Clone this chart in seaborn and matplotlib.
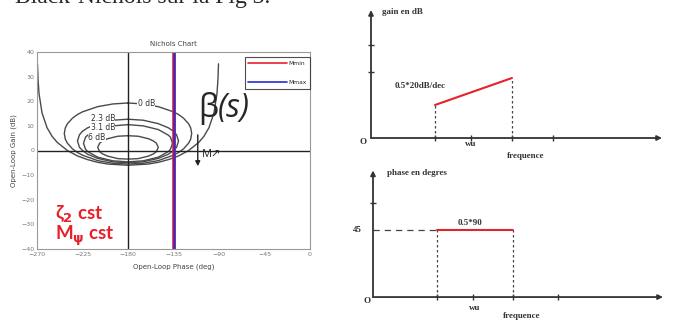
import matplotlib
matplotlib.use("Agg")
import matplotlib.pyplot as plt
import seaborn as sns
from matplotlib.lines import Line2D

sns.set_style("white")
plt.rcParams["font.family"] = ["DejaVu Sans"]
plt.rcParams["mathtext.default"] = "bf"

# ---- Nichols chart data (phase in deg, gain in dB) ----
phase_ticks = [-270, -225, -180, -135, -90, -45, 0]
gain_ticks = [-40, -30, -20, -10, 0, 10, 20, 30, 40]

# closed-loop 0 dB contour (open curve)
m0_phase = [-269.5, -269, -268, -265, -260, -255, -250, -240, -230, -220, -210, -200, -180,
            -160, -150, -140, -130, -120, -110, -105, -100, -95, -92, -91, -90.5]
m0_gain = [35.2, 29.1, 23.1, 15.2, 9.2, 5.7, 3.3, 0.0, -2.2, -3.7, -4.8, -5.5, -6.0,
           -5.5, -4.8, -3.7, -2.2, 0.0, 3.3, 5.7, 9.2, 15.2, 23.1, 29.1, 35.2]

# label "0 dB" contour
m1_phase = [-180, -195, -210, -225, -230, -235, -240, -242, -243, -242, -240, -235, -230, -225, -210, -195, -180,
            -165, -150, -135, -130, -125, -120, -118, -117, -118, -120, -125, -130, -135, -150, -165, -180]
m1_gain = [19.3, 18.9, 17.8, 15.7, 14.6, 13.1, 10.8, 9.2, 6.9, 4.6, 3.0, 0.7, -0.8, -1.9, -4.1, -5.2, -5.5,
           -5.2, -4.1, -1.9, -0.8, 0.7, 3.0, 4.6, 6.9, 9.2, 10.8, 13.1, 14.6, 15.7, 17.8, 18.9, 19.3]

# 2.3 dB contour
m23_phase = [-180, -195, -210, -220, -225, -228, -230, -228, -225, -220, -210, -195, -180,
             -165, -150, -140, -135, -132, -130, -132, -135, -140, -150, -165, -180]
m23_gain = [12.7, 12.3, 10.9, 9.2, 7.8, 6.4, 3.9, 1.3, 0.0, -1.5, -3.2, -4.6, -5.0,
            -4.6, -3.2, -1.5, 0.0, 1.3, 3.9, 6.4, 7.8, 9.2, 10.9, 12.3, 12.7]

# 3.1 dB contour
m31_phase = [-180, -195, -210, -220, -222, -224, -222, -220, -210, -195, -180,
             -165, -150, -140, -138, -136, -138, -140, -150, -165, -180]
m31_gain = [10.5, 10.0, 8.5, 6.2, 5.4, 2.9, 0.5, -0.4, -2.7, -4.2, -4.6,
            -4.2, -2.7, -0.4, 0.5, 2.9, 5.4, 6.2, 8.5, 10.0, 10.5]

# 6 dB contour
m6_phase = [-180, -190, -200, -205, -208, -210, -208, -205, -200, -190, -180,
            -170, -160, -155, -152, -150, -152, -155, -160, -170, -180]
m6_gain = [6.0, 5.8, 4.8, 3.9, 3.0, 1.3, -0.5, -1.4, -2.3, -3.3, -3.5,
           -3.3, -2.3, -1.4, -0.5, 1.3, 3.0, 3.9, 4.8, 5.8, 6.0]

contour_labels = ["0 dB", "2.3 dB", "3.1 dB", "6 dB"]
label_phase = [-162, -205, -205, -211]
label_gain = [19.0, 13.0, 9.2, 5.4]

mmin_phase = -135
mmax_phase = -135
arrow_phase = -111
arrow_gain = [7.5, -7.5]

# ---- Bode sketches ----
gain_freq = [6.4, 14.1]
gain_db = [3.3, 6.0]
gain_xticks = [6.4, 10.0, 14.1, 18.2]
gain_yticks = [6.6, 9.3]

phase_freq = [6.4, 14.0]
phase_deg = [45, 45]
phase_xticks = [6.4, 10.0, 14.0, 18.5]
phase_yticks = [63]

RED = "#e8202a"
BLUE = "#2a2ad8"
GREY = "#4a4a4a"

fig = plt.figure(figsize=(6.81, 3.2), dpi=100)
fig.text(15 / 681, 0.99, "Black-Nichols sur la Fig 3.", family="Liberation Serif",
         fontsize=17, va="baseline", ha="left")

# ---------------- Nichols chart ----------------
ax = fig.add_axes([37 / 681, 71 / 320, 273 / 681, 197 / 320])
for ph, g in [(m0_phase, m0_gain), (m1_phase, m1_gain), (m23_phase, m23_gain),
              (m31_phase, m31_gain), (m6_phase, m6_gain)]:
    sns.lineplot(x=ph, y=g, sort=False, ax=ax, color=GREY, lw=1.0, estimator=None)

for txt, px, gy in zip(contour_labels, label_phase, label_gain):
    ax.text(px, gy, txt, fontsize=5.5, color="#333333", ha="center", va="center",
            bbox=dict(facecolor="white", edgecolor="none", pad=0.2))

ax.axvline(-180, color="#222222", lw=1.0)
ax.axhline(0, color="#222222", lw=1.0)
ax.axvline(mmin_phase, color=RED, lw=2.6)
ax.axvline(mmax_phase, color=BLUE, lw=1.8, alpha=0.85)

ax.set_xlim(-270, 0)
ax.set_ylim(-40, 40)
ax.set_xticks(phase_ticks)
ax.set_yticks(gain_ticks)
ax.tick_params(direction="in", length=2, labelsize=4.5, labelcolor="#777777", color="#999999", pad=2)
for s in ax.spines.values():
    s.set_color("#999999")
    s.set_linewidth(0.8)
ax.set_title("Nichols Chart", fontsize=5, color="#444444", pad=4)
ax.set_xlabel("Open-Loop Phase (deg)", fontsize=5, color="#444444", labelpad=5)
ax.set_ylabel("Open-Loop Gain (dB)", fontsize=5, color="#444444", labelpad=3)

handles = [Line2D([], [], color=RED, lw=1.2), Line2D([], [], color=BLUE, lw=1.2)]
leg = ax.legend(handles, ["Mmin", "Mmax"], loc="upper right", bbox_to_anchor=(1.0, 0.975),
                fontsize=4.3, handlelength=6.5, labelspacing=2.4, handletextpad=0.2,
                frameon=True, fancybox=False, borderpad=0.6, borderaxespad=0)
leg.get_frame().set_edgecolor("#222222")
leg.get_frame().set_linewidth(0.8)

ax.text(-111, 17, "β", fontsize=23, family=["Open Sans", "DejaVu Sans"], ha="left", va="center")
ax.text(-91, 17, "(s)", fontsize=23, family=["Open Sans", "DejaVu Sans"], style="italic",
        ha="left", va="center")
ax.annotate("", xy=(arrow_phase, arrow_gain[1]), xytext=(arrow_phase, arrow_gain[0]),
            arrowprops=dict(arrowstyle="-|>", color="#222222", lw=1.0, mutation_scale=7))
ax.text(-107, -1.5, "M↗", fontsize=8, family=["Open Sans", "DejaVu Sans"], ha="left", va="center")

ax.text(-252, -26, "ζ$_2$ cst", fontsize=13.5, family=["Lato", "DejaVu Sans"], weight="bold",
        color=RED, ha="left", va="center")
ax.text(-252, -34.5, "M$_\\psi$ cst", fontsize=13.5, family=["Lato", "DejaVu Sans"], weight="bold",
        color=RED, ha="left", va="center")

sketch_font = dict(family="Liberation Serif", weight="bold", fontsize=6.5, color="#333333")
arrow_kw = dict(arrowstyle="-|>", color="#333333", lw=1.3, mutation_scale=7, shrinkA=0, shrinkB=0)

# ---------------- gain sketch ----------------
axg = fig.add_axes([340 / 681, 0.5, 341 / 681, 0.5])
axg.set_xlim(-3.1, 31.0)
axg.set_ylim(-2.2, 13.8)
axg.axis("off")
axg.annotate("", xy=(29.1, 0), xytext=(0, 0), arrowprops=arrow_kw)
axg.annotate("", xy=(0, 12.8), xytext=(0, 0), arrowprops=arrow_kw)
axg.plot(gain_xticks, [0] * len(gain_xticks), ls="none", marker="|", ms=5, color="#333333", mew=1)
axg.plot([0] * len(gain_yticks), gain_yticks, ls="none", marker="_", ms=5, color="#333333", mew=1)
for fx, gy in zip(gain_freq, gain_db):
    axg.plot([fx, fx], [0, gy], color="#444444", lw=0.9, ls=(0, (2, 2)))
sns.lineplot(x=gain_freq, y=gain_db, ax=axg, color=RED, lw=1.5, estimator=None)
axg.text(1.1, 12.6, "gain en dB", ha="left", va="center", **sketch_font)
axg.text(2.4, 5.2, "0.5*20dB/dec", ha="left", va="center", **sketch_font)
axg.text(10.0, -0.6, "wu", ha="center", va="center", **sketch_font)
axg.text(15.5, -1.8, "frequence", ha="center", va="center", **sketch_font)
axg.text(-0.8, -0.4, "O", ha="center", va="center", **sketch_font)

# ---------------- phase sketch ----------------
axp = fig.add_axes([340 / 681, 0.0, 341 / 681, 0.5])
axp.set_xlim(-3.3, 30.8)
axp.set_ylim(-15.4, 92.0)
axp.axis("off")
axp.annotate("", xy=(29.0, 0), xytext=(0, 0), arrowprops=arrow_kw)
axp.annotate("", xy=(0, 85), xytext=(0, 0), arrowprops=arrow_kw)
axp.plot(phase_xticks, [0] * len(phase_xticks), ls="none", marker="|", ms=5, color="#333333", mew=1)
axp.plot([0] * len(phase_yticks), phase_yticks, ls="none", marker="_", ms=5, color="#333333", mew=1)
axp.plot([0, phase_freq[0]], [phase_deg[0]] * 2, color="#444444", lw=0.9, ls=(0, (5, 4)))
for fx, py in zip(phase_freq, phase_deg):
    axp.plot([fx, fx], [0, py], color="#444444", lw=0.9, ls=(0, (2, 2)))
sns.lineplot(x=phase_freq, y=phase_deg, ax=axp, color=RED, lw=1.5, estimator=None)
axp.text(1.4, 83, "phase en degres", ha="left", va="center", **sketch_font)
axp.text(9.7, 49.5, "0.5*90", ha="center", va="center", **sketch_font)
axp.text(-1.6, 45, "45", ha="center", va="center", **sketch_font)
axp.text(10.2, -7.5, "wu", ha="center", va="center", **sketch_font)
axp.text(14.9, -12.5, "frequence", ha="center", va="center", **sketch_font)
axp.text(-0.6, -2.5, "O", ha="center", va="center", **sketch_font)

fig.savefig("out.png", dpi=100)
